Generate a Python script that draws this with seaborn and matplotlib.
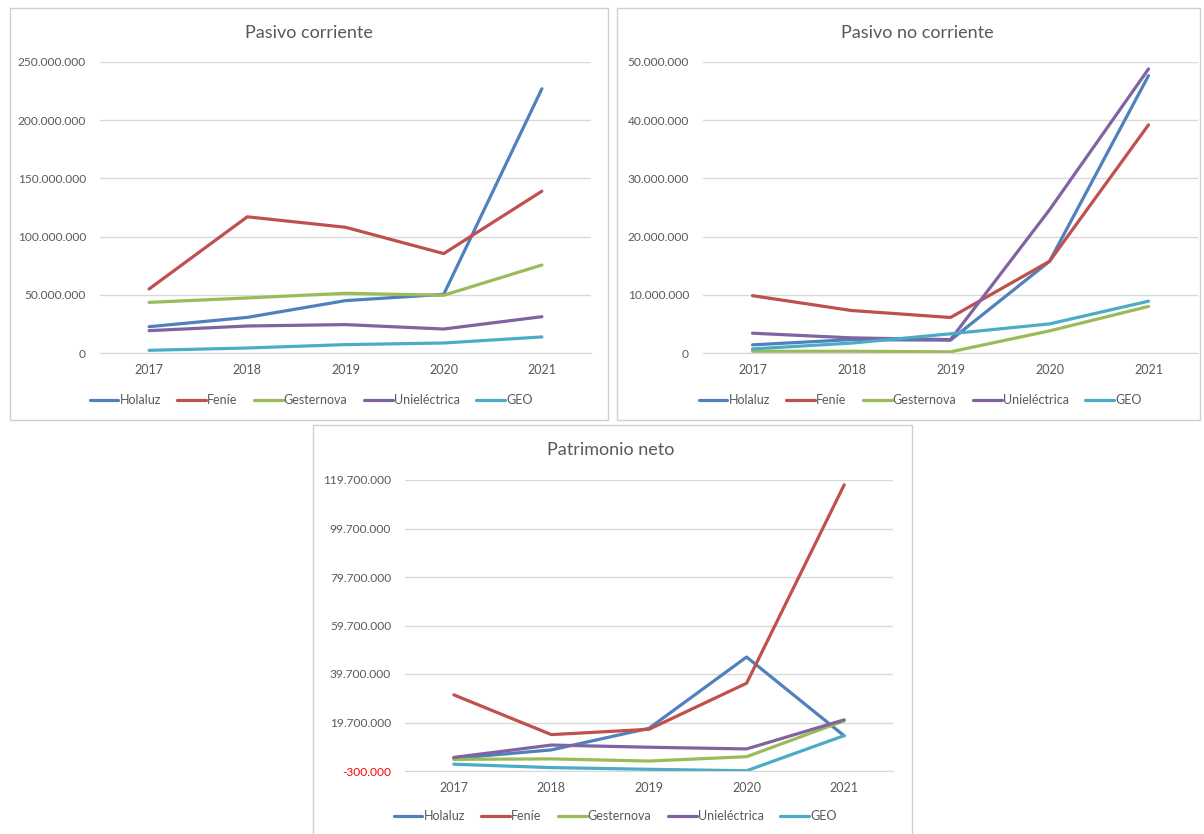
import matplotlib
matplotlib.use("Agg")
import matplotlib.pyplot as plt
from matplotlib.patches import Rectangle
from matplotlib.ticker import FuncFormatter, FixedLocator
import seaborn as sns
import pandas as pd

sns.set_style("white")
plt.rcParams['font.family'] = ['Lato', 'DejaVu Sans']

years = ["2017", "2018", "2019", "2020", "2021"]
companies = ["Holaluz", "Feníe", "Gesternova", "Unieléctrica", "GEO"]
colors = ["#4F81BD", "#C0504D", "#9BBB59", "#8064A2", "#4BACC6"]

# Pasivo corriente (EUR)
pc_holaluz = [22.6e6, 30.6e6, 45.0e6, 50.4e6, 227.0e6]
pc_fenie = [55.0e6, 117.0e6, 108.0e6, 85.4e6, 139.0e6]
pc_gesternova = [43.5e6, 47.3e6, 51.3e6, 49.6e6, 75.6e6]
pc_unielectrica = [19.2e6, 23.2e6, 24.4e6, 20.6e6, 31.2e6]
pc_geo = [2.3e6, 4.3e6, 7.2e6, 8.6e6, 13.8e6]

# Pasivo no corriente (EUR)
pnc_holaluz = [1.4e6, 2.3e6, 2.2e6, 15.75e6, 47.65e6]
pnc_fenie = [9.85e6, 7.3e6, 6.1e6, 15.75e6, 39.2e6]
pnc_gesternova = [0.3e6, 0.3e6, 0.2e6, 3.8e6, 8.0e6]
pnc_unielectrica = [3.4e6, 2.6e6, 2.3e6, 24.6e6, 48.8e6]
pnc_geo = [0.7e6, 1.7e6, 3.3e6, 5.0e6, 8.9e6]

# Patrimonio neto (EUR)
pn_holaluz = [4.9e6, 8.4e6, 17.3e6, 46.7e6, 14.2e6]
pn_fenie = [31.1e6, 14.7e6, 16.9e6, 35.9e6, 117.7e6]
pn_gesternova = [4.5e6, 4.7e6, 3.8e6, 5.6e6, 20.4e6]
pn_unielectrica = [5.3e6, 10.4e6, 9.5e6, 8.8e6, 20.8e6]
pn_geo = [2.5e6, 1.1e6, 0.4e6, -0.2e6, 14.3e6]

pc_ticks = [0, 50e6, 100e6, 150e6, 200e6, 250e6]
pnc_ticks = [0, 10e6, 20e6, 30e6, 40e6, 50e6]
pn_ticks = [-0.3e6, 19.7e6, 39.7e6, 59.7e6, 79.7e6, 99.7e6, 119.7e6]

W, H = 1204, 834
TXT = "#595959"
GRID = "#d9d9d9"


def long_df(series):
    rows = []
    for name, vals in zip(companies, series):
        for i, v in enumerate(vals):
            rows.append({"x": i, "valor": v, "empresa": name})
    return pd.DataFrame(rows)


def fmt(v, pos):
    return f"{int(round(v)):,}".replace(",", ".")


fig = plt.figure(figsize=(W / 100, H / 100), dpi=100)


def px_axes(x0, y0, x1, y1):
    return fig.add_axes([x0 / W, 1 - y1 / H, (x1 - x0) / W, (y1 - y0) / H])


def panel(box, area, title, title_xy, legend_xy, series, ticks):
    # outer frame of each chart
    bx0, by0, bx1, by1 = box
    fig.patches.append(Rectangle((bx0 / W, 1 - by1 / H), (bx1 - bx0) / W, (by1 - by0) / H,
                                 transform=fig.transFigure, fill=False,
                                 edgecolor="#d0d0d0", linewidth=1.0))
    ax = px_axes(*area)
    df = long_df(series)
    sns.lineplot(data=df, x="x", y="valor", hue="empresa", palette=colors,
                 linewidth=2.3, ax=ax, legend=True)
    ax.set_xlim(-0.5, 4.5)
    ax.set_ylim(ticks[0], ticks[-1])
    ax.yaxis.set_major_locator(FixedLocator(ticks))
    ax.yaxis.set_major_formatter(FuncFormatter(fmt))
    ax.set_xticks(range(len(years)))
    ax.set_xticklabels(years)
    ax.set_xlabel("")
    ax.set_ylabel("")
    ax.grid(axis="y", color=GRID, linewidth=1.0)
    ax.set_axisbelow(True)
    for s in ["top", "right", "left"]:
        ax.spines[s].set_visible(False)
    ax.spines["bottom"].set_color(GRID)
    ax.tick_params(axis="both", length=0, colors=TXT, labelsize=9)
    ax.tick_params(axis="y", pad=10, labelsize=8.6)
    ax.tick_params(axis="x", pad=8)
    fig.text(title_xy[0] / W, 1 - title_xy[1] / H, title, ha="center", va="center",
             fontsize=13, color=TXT)
    handles, labels = ax.get_legend_handles_labels()
    ax.get_legend().remove()
    fig.legend(handles, labels, loc="center", ncol=5,
               bbox_to_anchor=(legend_xy[0] / W, 1 - legend_xy[1] / H),
               frameon=False, fontsize=9, labelcolor=TXT, handlelength=2.3,
               handletextpad=0.1, columnspacing=1.3)
    return ax


panel((10, 8, 608, 420), (100, 62, 591, 353), "Pasivo corriente", (309, 33), (311, 400),
      [pc_holaluz, pc_fenie, pc_gesternova, pc_unielectrica, pc_geo], pc_ticks)

panel((617, 8, 1200, 420), (703, 62, 1198, 353), "Pasivo no corriente", (917, 33), (920, 400),
      [pnc_holaluz, pnc_fenie, pnc_gesternova, pnc_unielectrica, pnc_geo], pnc_ticks)

ax3 = panel((313, 425, 912, 845), (405, 480, 893, 771), "Patrimonio neto", (611, 450), (615, 816),
            [pn_holaluz, pn_fenie, pn_gesternova, pn_unielectrica, pn_geo], pn_ticks)

# negative value label shown in red, as in the source chart
for t, lab in zip(pn_ticks, ax3.get_yticklabels()):
    if t < 0:
        lab.set_color("#ff0000")

fig.savefig("out.png", dpi=100)
